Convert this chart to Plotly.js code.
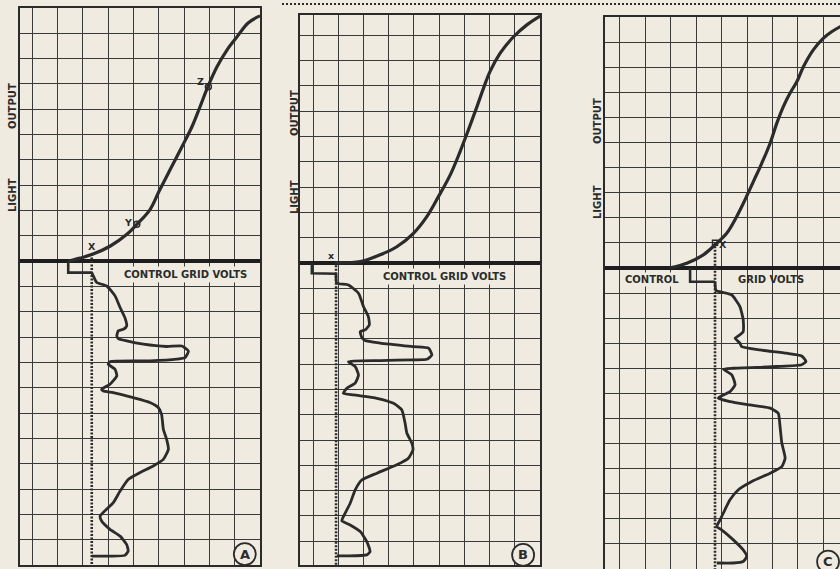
<!DOCTYPE html>
<html>
<head>
<meta charset="utf-8">
<script src="https://cdn.plot.ly/plotly-3.0.1.min.js"></script>
<style>
html,body{margin:0;padding:0;background:#efebe0;}
#chart{width:840px;height:569px;}
</style>
</head>
<body>
<div id="chart"></div>
<script>
// ---------- Panel A ----------
const curveA_x = [1.42, 1.89, 2.40, 3.07, 3.74, 4.14, 4.66, 5.01, 5.45, 5.92, 6.31, 6.63, 6.94, 7.30, 7.70, 8.09, 8.53, 9.0];
const curveA_y = [0.0, 0.12, 0.28, 0.59, 1.06, 1.46, 2.05, 2.76, 3.62, 4.53, 5.31, 6.10, 6.89, 7.68, 8.35, 8.86, 9.41, 9.69];
const bracketA_x = [1.42, 1.42, 2.35];
const bracketA_y = [0.0, -0.45, -0.45];
const waveA_x = [2.35, 2.41, 2.55, 2.94, 3.27, 3.47, 3.66, 3.73, 3.60, 3.40, 3.34, 3.40, 3.73, 4.39, 5.31, 5.91, 6.17, 6.04, 5.71, 4.65, 3.07, 3.00, 3.27, 3.34, 3.07, 2.74, 2.81, 3.20, 3.99, 4.65, 4.98, 5.11, 5.18, 5.31, 5.38, 5.18, 4.78, 4.26, 3.79, 3.47, 3.20, 2.68, 2.74, 3.07, 3.47, 3.73, 3.79, 3.66, 3.07, 2.35];
const waveA_y = [-0.45, -0.58, -0.84, -0.98, -1.37, -1.83, -2.23, -2.56, -2.69, -2.75, -2.95, -3.06, -3.15, -3.28, -3.37, -3.35, -3.55, -3.81, -3.87, -3.94, -3.97, -4.07, -4.27, -4.53, -4.86, -5.06, -5.13, -5.19, -5.39, -5.58, -5.78, -6.05, -6.64, -7.04, -7.43, -7.83, -8.09, -8.35, -8.62, -9.08, -9.54, -10.07, -10.26, -10.59, -10.86, -11.19, -11.45, -11.62, -11.65, -11.65];
const biasA_x = [2.35, 2.35];
const biasA_y = [0.28, -12];
const pointsA_label = ['X', 'Y', 'Z'];
const pointsA_x = [2.36, 4.13, 6.96];
const pointsA_y = [0.28, 1.46, 6.89];

// ---------- Panel B ----------
const curveB_x = [0.87, 1.87, 2.66, 3.32, 3.98, 4.51, 4.97, 5.44, 5.83, 6.16, 6.50, 6.76, 7.02, 7.42, 7.95, 8.48, 9.01];
const curveB_y = [0.0, 0.05, 0.32, 0.64, 1.17, 1.83, 2.62, 3.48, 4.40, 5.26, 6.18, 6.91, 7.57, 8.29, 8.94, 9.41, 9.76];
const bracketB_x = [-0.05, -0.05, 0.91];
const bracketB_y = [0.0, -0.41, -0.43];
const waveB_x = [0.91, 0.94, 1.40, 1.80, 2.00, 2.19, 2.23, 2.06, 1.87, 1.93, 2.06, 2.66, 3.98, 4.58, 4.71, 4.51, 3.98, 2.66, 1.40, 1.67, 1.80, 1.67, 1.34, 1.20, 1.60, 2.53, 3.19, 3.52, 3.65, 3.72, 3.92, 3.96, 3.78, 3.32, 2.53, 1.93, 1.67, 1.47, 1.20, 1.14, 1.47, 1.87, 2.13, 2.26, 2.13, 1.34, 0.94];
const waveB_y = [-0.43, -0.80, -0.87, -1.20, -1.73, -2.12, -2.45, -2.65, -2.72, -2.94, -3.07, -3.17, -3.31, -3.37, -3.64, -3.81, -3.83, -3.86, -3.90, -4.10, -4.43, -4.75, -4.95, -5.15, -5.22, -5.35, -5.55, -5.81, -6.34, -6.73, -7.13, -7.39, -7.72, -7.98, -8.31, -8.58, -8.97, -9.50, -10.03, -10.19, -10.36, -10.62, -11.02, -11.41, -11.54, -11.58, -11.58];
const biasB_x = [0.91, 0.91];
const biasB_y = [0.05, -12];
const pointsB_label = ['x'];
const pointsB_x = [0.71];
const pointsB_y = [0.28];

// ---------- Panel C ----------
const curveC_x = [1.97, 2.63, 3.28, 3.74, 4.20, 4.59, 4.92, 5.25, 5.58, 5.91, 6.17, 6.43, 6.69, 6.96, 7.22, 7.61, 8.00, 8.33, 8.66, 8.95];
const curveC_y = [0.0, 0.19, 0.52, 0.92, 1.38, 2.04, 2.71, 3.44, 4.17, 4.97, 5.76, 6.43, 6.96, 7.42, 8.02, 8.69, 9.15, 9.41, 9.61, 9.75];
const bracketC_x = [2.76, 2.76, 3.74];
const bracketC_y = [0.0, -0.55, -0.55];
const waveC_x = [3.74, 3.78, 4.07, 4.40, 4.72, 4.85, 4.85, 4.66, 4.53, 4.72, 4.79, 5.51, 6.56, 7.15, 7.32, 7.15, 6.17, 4.46, 4.07, 4.40, 4.53, 4.33, 3.94, 3.87, 4.33, 5.12, 5.91, 6.23, 6.30, 6.37, 6.50, 6.37, 5.91, 5.19, 4.66, 4.33, 4.13, 3.94, 3.81, 4.00, 4.46, 4.85, 4.99, 4.85, 4.46, 3.81];
const waveC_y = [-0.55, -0.90, -0.98, -1.08, -1.54, -2.07, -2.54, -2.71, -2.80, -3.00, -3.14, -3.27, -3.40, -3.51, -3.73, -3.86, -3.93, -4.00, -4.04, -4.26, -4.66, -4.93, -5.13, -5.19, -5.33, -5.46, -5.59, -5.79, -6.32, -6.98, -7.58, -7.92, -8.18, -8.51, -8.84, -9.24, -9.64, -10.04, -10.31, -10.44, -10.84, -11.24, -11.50, -11.70, -11.76, -11.76];
const biasC_x = [3.74, 3.74];
const biasC_y = [1.0, -12];
const pointsC_label = ['X'];
const pointsC_x = [3.74];
const pointsC_y = [1.0];

const panelLetters = ['A', 'B', 'C'];
const yTitle = ['LIGHT', 'OUTPUT'];
const xTitle = 'CONTROL GRID VOLTS';

// ---------- styling ----------
const PAPER = '#efebe0';
const INK = '#2b2b2b';
const GRID = '#3a3a3a';
const FONT = 'DejaVu Sans';

function ax(xa, ya) { return {xaxis: xa, yaxis: ya}; }
const traces = [];
function addPanel(xa, ya, cx, cy, bx, by, wx, wy, dx, dy) {
  traces.push(Object.assign({x: cx, y: cy, mode: 'lines', line: {color: INK, width: 3.2, shape: 'spline', smoothing: 1}, hoverinfo: 'skip'}, ax(xa, ya)));
  traces.push(Object.assign({x: bx, y: by, mode: 'lines', line: {color: INK, width: 2.6}, hoverinfo: 'skip'}, ax(xa, ya)));
  traces.push(Object.assign({x: wx, y: wy, mode: 'lines', line: {color: INK, width: 2.8, shape: 'spline', smoothing: 0.5}, hoverinfo: 'skip'}, ax(xa, ya)));
  traces.push(Object.assign({x: dx, y: dy, mode: 'lines', line: {color: INK, width: 2.6, dash: '2px,1.5px'}, hoverinfo: 'skip'}, ax(xa, ya)));
}
addPanel('x', 'y', curveA_x, curveA_y, bracketA_x, bracketA_y, waveA_x, waveA_y, biasA_x, biasA_y);
addPanel('x2', 'y2', curveB_x, curveB_y, bracketB_x, bracketB_y, waveB_x, waveB_y, biasB_x, biasB_y);
addPanel('x3', 'y3', curveC_x, curveC_y, bracketC_x, bracketC_y, waveC_x, waveC_y, biasC_x, biasC_y);
// point markers on curves
traces.push({x: pointsA_x.slice(1), y: pointsA_y.slice(1), xaxis: 'x', yaxis: 'y', mode: 'markers',
  marker: {symbol: 'circle-open', size: 6, color: INK, line: {width: 1.5, color: INK}}, hoverinfo: 'skip'});
traces.push({x: pointsC_x, y: pointsC_y, xaxis: 'x3', yaxis: 'y3', mode: 'markers',
  marker: {symbol: 'square-open', size: 5, color: INK, line: {width: 1.5, color: INK}}, hoverinfo: 'skip'});

function xax(domain, range, opts) {
  return Object.assign({domain: domain, range: range, tick0: 0, dtick: 1, showgrid: true, gridcolor: GRID, gridwidth: 1,
    zeroline: false, showticklabels: false, ticks: '', showline: true, mirror: true, linecolor: INK, linewidth: 1.6, fixedrange: true}, opts || {});
}
function yax(domain, range, anchor, opts) {
  return Object.assign({domain: domain, range: range, anchor: anchor, tick0: 0, dtick: 1, showgrid: true, gridcolor: GRID, gridwidth: 1,
    zeroline: true, zerolinecolor: '#1e1e1e', zerolinewidth: 3.4, showticklabels: false, ticks: '', showline: true, mirror: true,
    linecolor: INK, linewidth: 1.8, fixedrange: true}, opts || {});
}

const W = 840, H = 569;
const px = v => v / W, py = v => 1 - v / H;

const tf = {family: FONT, size: 10, color: INK, weight: 'bold'};
const C = {xanchor: 'center', yanchor: 'middle', showarrow: false};
const annotations = [];
// y titles
[[12, 106, 195], [294, 113, 197], [597, 121, 202]].forEach(p => {
  annotations.push(Object.assign({xref: 'paper', yref: 'paper', x: px(p[0]), y: py(p[2]), text: yTitle[0], textangle: -90, font: tf}, C));
  annotations.push(Object.assign({xref: 'paper', yref: 'paper', x: px(p[0]), y: py(p[1]), text: yTitle[1], textangle: -90, font: tf}, C));
});
// x titles
annotations.push(Object.assign({xref: 'paper', yref: 'paper', x: px(185), y: py(274), text: xTitle, font: tf, bgcolor: PAPER, borderpad: 2}, C));
annotations.push(Object.assign({xref: 'paper', yref: 'paper', x: px(444), y: py(276), text: xTitle, font: tf, bgcolor: PAPER, borderpad: 2}, C));
annotations.push(Object.assign({xref: 'paper', yref: 'paper', x: px(652), y: py(279), text: xTitle.split(' ')[0], font: tf, bgcolor: PAPER, borderpad: 1}, C));
annotations.push(Object.assign({xref: 'paper', yref: 'paper', x: px(771), y: py(279), text: xTitle.split(' ').slice(1).join(' '), font: tf}, C));
// point labels
const lf = {family: FONT, size: 9.5, color: INK, weight: 'bold'};
annotations.push(Object.assign({xref: 'x', yref: 'y', x: pointsA_x[0], y: pointsA_y[0], text: pointsA_label[0], font: lf, yshift: 8}, C));
annotations.push(Object.assign({xref: 'x', yref: 'y', x: pointsA_x[1], y: pointsA_y[1], text: pointsA_label[1], font: lf, xshift: -9, yshift: 2}, C));
annotations.push(Object.assign({xref: 'x', yref: 'y', x: pointsA_x[2], y: pointsA_y[2], text: pointsA_label[2], font: lf, xshift: -8, yshift: 5}, C));
annotations.push(Object.assign({xref: 'x2', yref: 'y2', x: pointsB_x[0], y: pointsB_y[0], text: pointsB_label[0], font: lf}, C));
annotations.push(Object.assign({xref: 'x3', yref: 'y3', x: pointsC_x[0], y: pointsC_y[0], text: pointsC_label[0], font: lf, xshift: 8, yshift: -2}, C));
// panel letters in circles
const letterPos = [['x', 'y', 8.40, -11.57], ['x2', 'y2', 8.33, -11.54], ['x3', 'y3', 8.19, -11.71]];
const shapes = [];
letterPos.forEach((p, i) => {
  shapes.push({type: 'circle', xref: p[0], yref: p[1], xsizemode: 'pixel', ysizemode: 'pixel', xanchor: p[2], yanchor: p[3],
    x0: -11, x1: 11, y0: -11, y1: 11, line: {color: INK, width: 1.8}, fillcolor: PAPER, layer: 'above'});
  annotations.push(Object.assign({xref: p[0], yref: p[1], x: p[2], y: p[3], text: panelLetters[i],
    font: {family: FONT, size: 13, color: INK, weight: 'bold'}}, C));
});
// dotted separator across top of B and C
shapes.push({type: 'line', xref: 'paper', yref: 'paper', x0: px(282), x1: 1, y0: py(4), y1: py(4), line: {color: INK, width: 2, dash: '2px,2px'}});

const layout = {
  width: W, height: H,
  margin: {l: 0, r: 0, t: 0, b: 0},
  paper_bgcolor: PAPER, plot_bgcolor: PAPER,
  showlegend: false,
  xaxis: xax([px(20), px(260)], [-0.486, 9.0]),
  yaxis: yax([4 / H, 1 - 8 / H], [-12, 10], 'x'),
  xaxis2: xax([px(300), px(540)], [-0.52, 9.0], {anchor: 'y2'}),
  yaxis2: yax([4 / H, 1 - 15 / H], [-11.94, 9.8], 'x2'),
  xaxis3: xax([px(605), 1], [-0.59, 8.66], {anchor: 'y3', side: 'top', mirror: false}),
  yaxis3: yax([0, 1 - 17 / H], [-12, 10], 'x3', {mirror: false, side: 'left'}),
  annotations: annotations,
  shapes: shapes
};
Plotly.newPlot('chart', traces, layout, {staticPlot: true, displayModeBar: false});
</script>
</body>
</html>
